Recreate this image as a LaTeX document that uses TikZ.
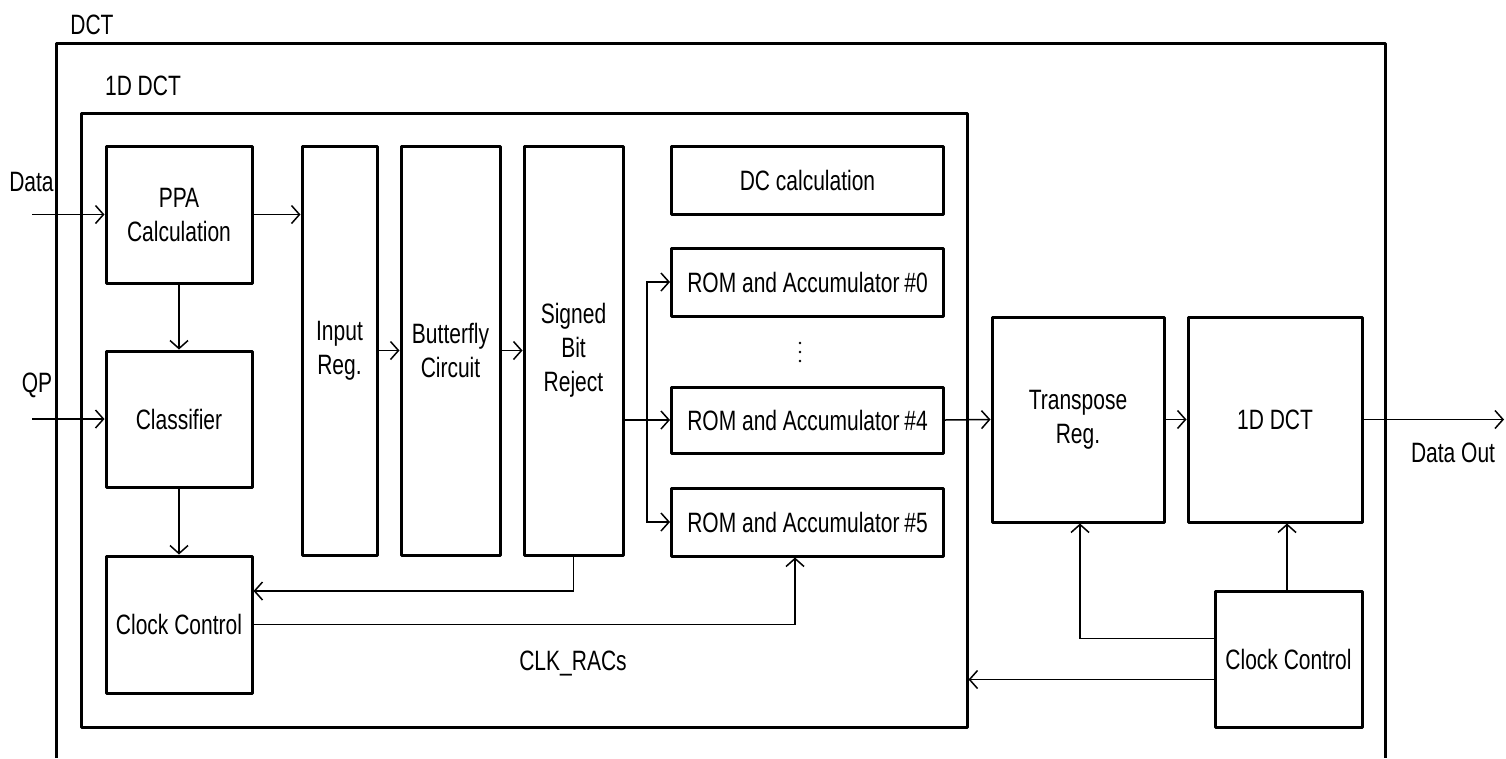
\documentclass[tikz,border=0pt]{standalone}
\usepackage{fontspec}
\setmainfont{Liberation Sans}[FakeStretch=0.75]
\usetikzlibrary{arrows.meta,calc}
\begin{document}
\begin{tikzpicture}[x=1pt,y=-1pt,
  every node/.style={font=\fontsize{28}{34}\selectfont, inner sep=0pt},
  blk/.style={draw, line width=3pt, align=center, line join=round},
  conn/.style={line width=1.5pt},
  arr/.style={conn, -{Straight Barb[length=8pt,width=18pt,line width=1.5pt]}},
  lbl/.style={anchor=center}]
\useasboundingbox (0,0) rectangle (1506,758);
% outer DCT frame (open at bottom)
\draw[line width=3pt, line join=round] (56,758) -- (56,43) -- (1385,43) -- (1385,758);
\node[lbl] (tdct) at (92,25) {DCT};
% inner 1D DCT box
\node[blk, minimum width=886pt, minimum height=614pt] (inner) at (524,420) {};
\node[lbl] (tinner) at (143,86) {1D DCT};
% blocks
\node[blk, minimum width=146pt, minimum height=137pt] (ppa) at (179,214.5) {PPA\\Calculation};
\node[blk, minimum width=146pt, minimum height=136pt] (cls) at (179,419) {Classifier};
\node[blk, minimum width=146pt, minimum height=137pt] (clk) at (179,624.5) {Clock Control};
\node[blk, minimum width=75pt, minimum height=409pt] (inreg) at (339.5,350.5) {Input\\Reg.};
\node[blk, minimum width=99pt, minimum height=409pt] (bfly) at (450.5,350.5) {Butterfly\\Circuit};
\node[blk, minimum width=99pt, minimum height=409pt] (sbr) at (573.5,350.5) {Signed\\Bit\\Reject};
\node[blk, minimum width=272pt, minimum height=68pt] (dc) at (807.5,180) {DC calculation};
\node[blk, minimum width=272pt, minimum height=68pt] (rom0) at (807.5,282) {ROM and Accumulator\,\#0};
\node[blk, minimum width=272pt, minimum height=66pt] (rom4) at (807.5,420) {ROM and Accumulator\,\#4};
\node[blk, minimum width=272pt, minimum height=68pt] (rom5) at (807.5,522) {ROM and Accumulator\,\#5};
\node[blk, minimum width=172pt, minimum height=205pt] (tr) at (1078,419.5) {Transpose\\Reg.};
\node[blk, minimum width=174pt, minimum height=205pt] (dct1) at (1275,419.5) {1D DCT};
\node[blk, minimum width=147pt, minimum height=136pt] (clk2) at (1288.5,659) {Clock Control};
% dots
\fill (800,343) circle (1.4pt) (800,352) circle (1.4pt) (800,361) circle (1.4pt);
% labels
\node[lbl] (tdata) at (31.5,182) {Data};
\node[lbl] (tqp) at (37,385) {QP};
\node[lbl] (tclk) at (573,663) {CLK\_RACs};
\node[lbl] (tout) at (1453,453) {Data Out};
% connectors
\coordinate (din) at (32,214.5);
\coordinate (qin) at (32,419);
\coordinate (dout) at (1504,419.5);
\coordinate (br) at (647,420);
\draw[arr] (din) -- (ppa.west);
\draw[arr] (qin) -- (cls.west);
\draw[arr] (ppa.south) -- (cls.north);
\draw[arr] (cls.south) -- (clk.north);
\draw[arr] (ppa.east) -- (inreg.west |- ppa.east);
\draw[arr] (inreg.east) -- (bfly.west);
\draw[arr] (bfly.east) -- (sbr.west);
\draw[arr] (sbr.east |- rom4.west) -- (rom4.west);
\draw[arr] (br) |- (rom0.west);
\draw[arr] (br) |- (rom5.west);
\draw[arr] (sbr.south) |- ([yshift=33.5pt]clk.east);
\draw[arr] (clk.east) -| ([xshift=-12.5pt]rom5.south);
\draw[arr] (rom4.east) -- (tr.west);
\draw[arr] (tr.east) -- (dct1.west);
\draw[arr] (dct1.east) -- (dout);
\draw[arr] ([xshift=-1.5pt]clk2.north) -- ([xshift=-1.5pt]clk2.north |- dct1.south);
\draw[arr] ([yshift=20.5pt]clk2.west) -| ([xshift=2pt]tr.south);
\draw[arr] ([yshift=-20.5pt]clk2.west) -- ([yshift=-20.5pt]clk2.west -| inner.east);
\end{tikzpicture}
\end{document}
